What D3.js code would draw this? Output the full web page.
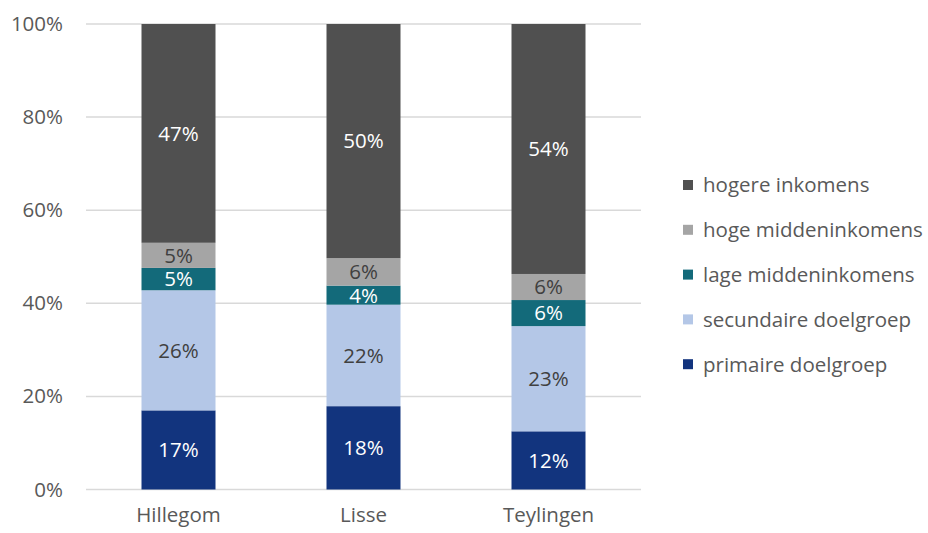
<!DOCTYPE html>
<html>
<head>
<meta charset="utf-8">
<script src="https://cdn.jsdelivr.net/npm/d3@7"></script>
<style>
  html, body { margin: 0; padding: 0; background: #fff; }
  svg { display: block; font-family: "Open Sans", Lato, "Liberation Sans", sans-serif; }
</style>
</head>
<body>
<svg id="chart" width="928" height="533"></svg>
<script>
const categories = ["Hillegom", "Lisse", "Teylingen"];
const seriesNames = ["primaire doelgroep", "secundaire doelgroep", "lage middeninkomens", "hoge middeninkomens", "hogere inkomens"];
const primaire   = [17.0, 17.9, 12.5];
const secundaire = [25.8, 21.8, 22.6];
const lageMidden = [4.8, 4.1, 5.6];
const hogeMidden = [5.4, 5.9, 5.6];
const hogere     = [47.0, 50.3, 53.7];
const labelsPct  = [
  ["17%", "18%", "12%"],
  ["26%", "22%", "23%"],
  ["5%", "4%", "6%"],
  ["5%", "6%", "6%"],
  ["47%", "50%", "54%"]
];
const yTicks = [0, 20, 40, 60, 80, 100];
const colors = ["#12347e", "#b4c7e7", "#136a7a", "#a5a5a5", "#505050"];
const labelColors = ["#ffffff", "#404040", "#ffffff", "#404040", "#ffffff"];

const seriesValues = [primaire, secundaire, lageMidden, hogeMidden, hogere];
const table = categories.map((c, i) => {
  const row = { cat: c };
  seriesNames.forEach((s, j) => row[s] = seriesValues[j][i]);
  return row;
});
const stacked = d3.stack().keys(seriesNames)(table);

const FONT = "'Open Sans', Lato, sans-serif";
const FS = "20.5px";

const svg = d3.select("#chart");
const x = d3.scaleBand().domain(categories).range([86, 641]).paddingInner(0.6).paddingOuter(0.3);
const y = d3.scaleLinear().domain([0, 100]).range([489.5, 24]);

// gridlines
svg.append("g").selectAll("line").data(yTicks).join("line")
  .attr("x1", 86).attr("x2", 641)
  .attr("y1", d => y(d)).attr("y2", d => y(d))
  .attr("stroke", "#d9d9d9").attr("stroke-width", 1.5);

// y axis labels
const yAxis = d3.axisLeft(y).tickValues(yTicks).tickFormat(d => d + "%").tickSize(0).tickPadding(0);
const gy = svg.append("g").attr("transform", "translate(63,0)").call(yAxis);
gy.select(".domain").remove();
gy.selectAll("text").attr("fill", "#595959").style("font-size", FS).style("font-family", FONT);

// bars
const layers = svg.append("g").selectAll("g").data(stacked).join("g")
  .attr("fill", (d, i) => colors[i]);
layers.selectAll("rect").data(d => d).join("rect")
  .attr("x", d => x(d.data.cat))
  .attr("width", x.bandwidth())
  .attr("y", d => y(d[1]))
  .attr("height", d => y(d[0]) - y(d[1]));

// bar labels
const lbl = svg.append("g");
stacked.forEach((layer, j) => {
  lbl.selectAll(null).data(layer).join("text")
    .attr("x", d => x(d.data.cat) + x.bandwidth() / 2)
    .attr("y", d => (y(d[0]) + y(d[1])) / 2)
    .attr("dy", "0.36em")
    .attr("text-anchor", "middle")
    .attr("fill", labelColors[j])
    .style("font-size", FS)
    .text((d, i) => labelsPct[j][i]);
});

// x axis labels
const xAxis = d3.axisBottom(x).tickSize(0).tickPadding(0);
const gx = svg.append("g").attr("transform", "translate(0,507)").call(xAxis);
gx.select(".domain").remove();
gx.selectAll("text").attr("fill", "#595959").style("font-size", FS).style("font-family", FONT);

// legend
const legendOrder = seriesNames.map((s, i) => ({ name: s, color: colors[i] })).reverse();
const lg = svg.append("g").selectAll("g").data(legendOrder).join("g")
  .attr("transform", (d, i) => `translate(683, ${185 + i * 44.8})`);
lg.append("rect").attr("x", 0).attr("y", -5).attr("width", 10).attr("height", 10).attr("fill", d => d.color);
lg.append("text").attr("x", 20).attr("y", 0).attr("dy", "0.36em")
  .attr("fill", "#595959").style("font-size", FS).text(d => d.name);
</script>
</body>
</html>
